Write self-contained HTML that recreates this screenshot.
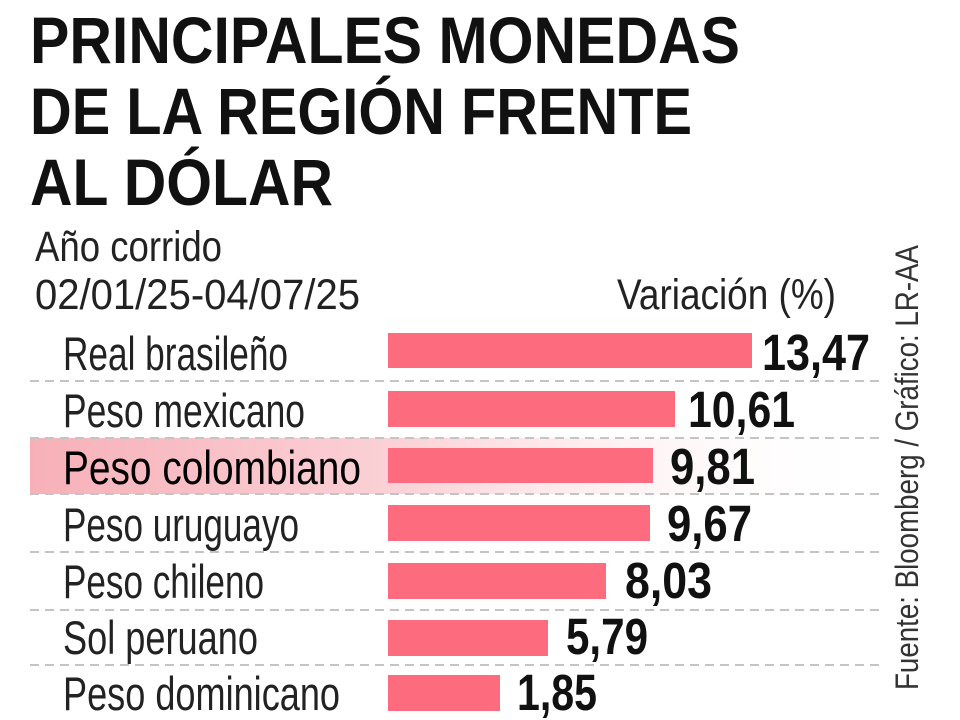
<!DOCTYPE html>
<html><head><meta charset="utf-8"><style>
html,body{margin:0;padding:0;background:#fff;width:960px;height:720px;overflow:hidden}
svg{display:block}
text{font-family:"Liberation Sans",sans-serif}
</style></head><body>
<svg width="960" height="720" viewBox="0 0 960 720" xmlns="http://www.w3.org/2000/svg">
<defs>
<linearGradient id="hl" x1="0" x2="1" y1="0" y2="0">
<stop offset="0" stop-color="#f7b0b8"/>
<stop offset="0.45" stop-color="#fbd3d8"/>
<stop offset="1" stop-color="#ffffff" stop-opacity="0"/>
</linearGradient>
</defs>
<g font-weight="bold" font-size="66" fill="#111">
<text x="30" y="63" textLength="710" lengthAdjust="spacingAndGlyphs">PRINCIPALES MONEDAS</text>
<text x="30" y="134" textLength="662" lengthAdjust="spacingAndGlyphs">DE LA REGIÓN FRENTE</text>
<text x="30" y="205" textLength="303" lengthAdjust="spacingAndGlyphs">AL DÓLAR</text>
</g>
<g font-size="43" fill="#222">
<text x="35" y="261" textLength="187" lengthAdjust="spacingAndGlyphs">Año corrido</text>
<text x="35" y="309" textLength="325" lengthAdjust="spacingAndGlyphs">02/01/25-04/07/25</text>
<text x="617" y="309" textLength="219" lengthAdjust="spacingAndGlyphs">Variación (%)</text>
</g>
<rect x="30" y="438" width="850" height="56" fill="url(#hl)"/>
<g stroke="#c4c4c4" stroke-width="2" stroke-dasharray="9,6">
<line x1="30" y1="381" x2="880" y2="381"/>
<line x1="30" y1="438" x2="880" y2="438"/>
<line x1="30" y1="494" x2="880" y2="494"/>
<line x1="30" y1="552" x2="880" y2="552"/>
<line x1="30" y1="610" x2="880" y2="610"/>
<line x1="30" y1="665" x2="880" y2="665"/>
</g>
<g fill="#fd6b7f">
<rect x="388" y="333" width="364" height="35"/>
<rect x="388" y="391" width="287" height="36"/>
<rect x="388" y="448" width="265" height="35"/>
<rect x="388" y="505" width="262" height="36"/>
<rect x="388" y="563" width="218" height="36"/>
<rect x="388" y="620" width="160" height="36"/>
<rect x="388" y="675" width="112" height="36"/>
</g>
<g font-size="47" fill="#222">
<text x="63" y="370" textLength="225" lengthAdjust="spacingAndGlyphs">Real brasileño</text>
<text x="63" y="427" textLength="242" lengthAdjust="spacingAndGlyphs">Peso mexicano</text>
<text x="63" y="484" textLength="298" lengthAdjust="spacingAndGlyphs" fill="#000">Peso colombiano</text>
<text x="63" y="541" textLength="236" lengthAdjust="spacingAndGlyphs">Peso uruguayo</text>
<text x="63" y="598" textLength="201" lengthAdjust="spacingAndGlyphs">Peso chileno</text>
<text x="63" y="654" textLength="195" lengthAdjust="spacingAndGlyphs">Sol peruano</text>
<text x="63" y="710" textLength="277" lengthAdjust="spacingAndGlyphs">Peso dominicano</text>
</g>
<g font-size="51" font-weight="bold" fill="#111">
<text x="762" y="370" textLength="108" lengthAdjust="spacingAndGlyphs">13,47</text>
<text x="688" y="427" textLength="107" lengthAdjust="spacingAndGlyphs">10,61</text>
<text x="670" y="484" textLength="85" lengthAdjust="spacingAndGlyphs">9,81</text>
<text x="667" y="541" textLength="85" lengthAdjust="spacingAndGlyphs">9,67</text>
<text x="625" y="598" textLength="87" lengthAdjust="spacingAndGlyphs">8,03</text>
<text x="566" y="654" textLength="82" lengthAdjust="spacingAndGlyphs">5,79</text>
<text x="517" y="710" textLength="80" lengthAdjust="spacingAndGlyphs">1,85</text>
</g>
<text transform="translate(918,690) rotate(-90)" font-size="32" fill="#333" textLength="445" lengthAdjust="spacingAndGlyphs">Fuente: Bloomberg / Gráfico: LR-AA</text>
</svg>
</body></html>
